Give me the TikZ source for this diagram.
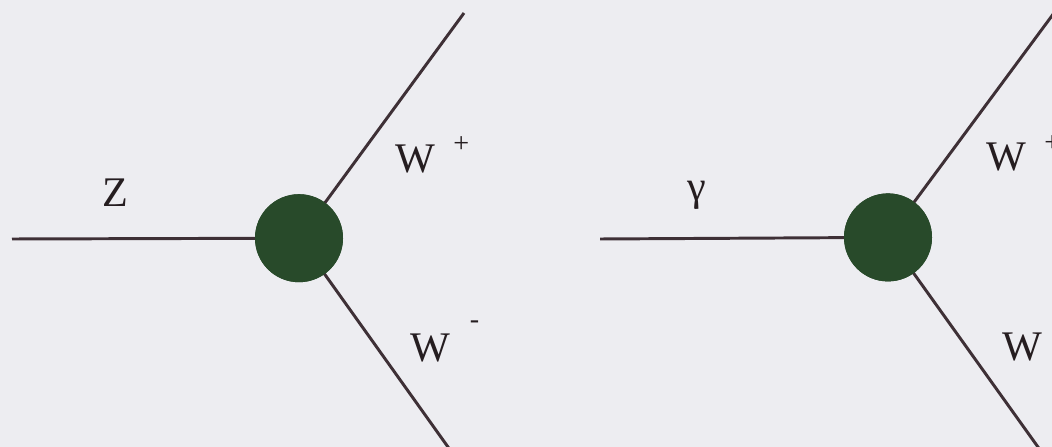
\documentclass[tikz,border=0pt]{standalone}
\usepackage{fontspec}
\setmainfont{Liberation Serif}
\usetikzlibrary{positioning}
\definecolor{paper}{RGB}{237,237,241}
\definecolor{vtxgreen}{RGB}{40,74,42}
\definecolor{propline}{RGB}{62,48,54}
\tikzset{
  vtx/.style  = {circle, fill=vtxgreen, minimum size=2.2cm, inner sep=0pt},
  prop/.style = {draw=propline, line width=2.1pt},
  plab/.style = {font=\fontsize{30}{36}\selectfont, text=propline!60!black,
                 inner sep=0pt, anchor=base west},
}
% charge signs sit well above and apart from the W
\newcommand{\chplus}{\hspace{13pt}\raisebox{14pt}{\fontsize{20}{20}\selectfont +}}
\newcommand{\chminus}{\hspace{14pt}\raisebox{24pt}{\fontsize{20}{20}\selectfont -}}

\begin{document}
\begin{tikzpicture}

    \fill[paper] (0,0) rectangle (26.3,11.175);
    \useasboundingbox (0,0) rectangle (26.3,11.175);
    \clip (0,0) rectangle (26.3,11.175);

    % Z W W vertex
    \coordinate (zin)  at (0.3, 5.2);
    \coordinate (zwp)  at (11.6, 10.85);
    \coordinate (zwm)  at (11.45, -0.35);
    \node[vtx] (vz) at (7.475, 5.22) {};
    \draw[prop] (zin) -- (vz.center);
    \draw[prop] (vz.center) -- (zwp);
    \draw[prop] (vz.center) -- (zwm);
    \node[vtx] at (vz) {};

    \node[plab, anchor=base] (lz)  at (2.875, 6.0)  {Z};
    \node[plab] (lzwp) at (9.875, 6.87)  {W\chplus};
    \node[plab] (lzwm) at (10.25, 2.125) {W\chminus};

    % gamma W W vertex
    \coordinate (gin)  at (15.0, 5.2);
    \coordinate (gwp)  at (26.35, 10.85);
    \coordinate (gwm)  at (26.2, -0.35);
    \node[vtx] (vg) at (22.2, 5.24) {};
    \draw[prop] (gin) -- (vg.center);
    \draw[prop] (vg.center) -- (gwp);
    \draw[prop] (vg.center) -- (gwm);
    \node[vtx] at (vg) {};

    \node[plab, anchor=base] (lg)  at (17.425, 6.15) {γ};
    \node[plab] (lgwp) at (24.65, 6.9)  {W\chplus};
    \node[plab] (lgwm) at (25.05, 2.15) {W\chminus};

\end{tikzpicture}
\end{document}
